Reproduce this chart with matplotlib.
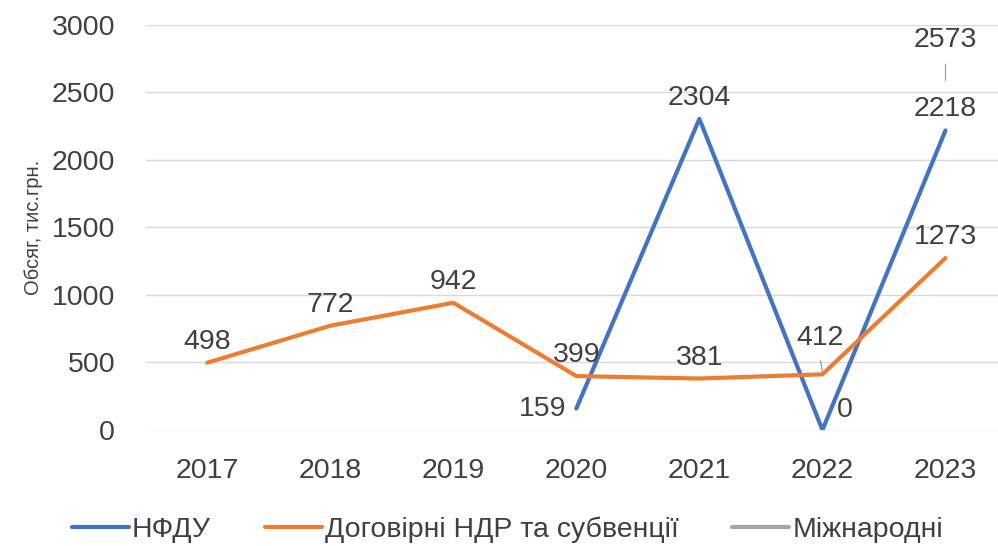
import numpy as np
import matplotlib.pyplot as plt

# дані
years = ['2017', '2018', '2019', '2020', '2021', '2022', '2023']
nfdu = [np.nan, np.nan, np.nan, 159, 2304, 0, 2218]
dogovirni = [498, 772, 942, 399, 381, 412, 1273]
mizhnarodni = [np.nan, np.nan, np.nan, np.nan, np.nan, np.nan, 2573]
y_ticks = [0, 500, 1000, 1500, 2000, 2500, 3000]

plt.rcParams['font.family'] = ['Liberation Sans', 'DejaVu Sans']
txt = '#404040'
fs = 20.5

fig = plt.figure(figsize=(9.98, 5.46), dpi=100)
ax = fig.add_axes([0.146, 0.2125, 0.863, 0.742])
x = np.arange(len(years))

ax.plot(x, nfdu, color='#4472C4', lw=3, label='НФДУ', solid_capstyle='round')
ax.plot(x, dogovirni, color='#ED7D31', lw=3, label='Договірні НДР та субвенції', solid_capstyle='round')
ax.plot(x, mizhnarodni, color='#A5A5A5', lw=3, label='Міжнародні', solid_capstyle='round')

ax.set_xlim(-0.5, len(years) - 0.5)
ax.set_ylim(0, 3000)
ax.set_yticks(y_ticks)
ax.set_xticks(x)
ax.set_xticklabels(years)
ax.grid(axis='y', color='#D9D9D9', lw=1)
ax.set_axisbelow(True)
for s in ax.spines.values():
    s.set_visible(False)
ax.tick_params(axis='both', length=0, labelsize=fs, colors=txt)
ax.tick_params(axis='y', pad=22)
ax.tick_params(axis='x', pad=20)
ax.set_ylabel('Обсяг, тис.грн.', fontsize=14.5, color=txt, labelpad=6)


def label(xi, yi, val, dx=0, dy=21):
    ax.annotate(str(val), (xi, yi), xytext=(dx, dy), textcoords='offset pixels',
                ha='center', va='center', fontsize=fs, color=txt)


# підписи помаранчевої лінії
for i, v in enumerate(dogovirni):
    if i == 5:
        continue
    label(i, v, v)
label(5, 412, 412, dx=-2, dy=36)
ax.plot([5 - 0.015, 5], [412 + 100, 412 + 15], color='#A5A5A5', lw=1)

# підписи синьої лінії
label(3, 159, 159, dx=-34, dy=0)
label(4, 2304, 2304)
label(5, 0, 0, dx=22, dy=20)
label(6, 2218, 2218)

# міжнародні
label(6, 2573, 2573, dx=0, dy=43)
ax.plot([6, 6], [2573 + 140, 2573 + 20], color='#A5A5A5', lw=1)

ax.legend(loc='upper center', bbox_to_anchor=(0.42, -0.15), ncol=3, frameon=False,
          fontsize=fs, labelcolor=txt, handlelength=2.0, handletextpad=0.1,
          columnspacing=1.9)

fig.savefig('out.png', dpi=100)
